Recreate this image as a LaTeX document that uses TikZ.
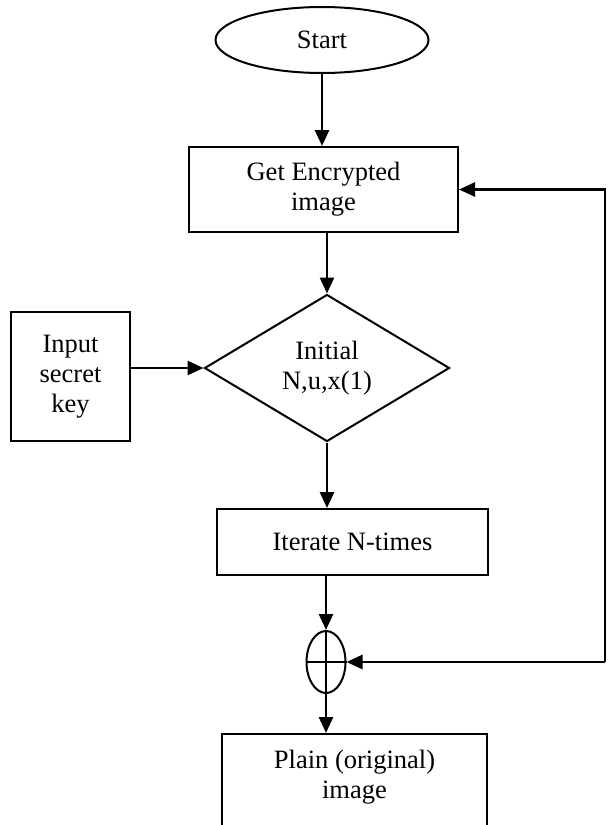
\documentclass[tikz,border=0pt]{standalone}
\usepackage{fontspec}
\setmainfont{Liberation Serif}
\usetikzlibrary{shapes.geometric,arrows.meta}

\tikzset{
  shapeline/.style={draw=black, line width=2pt},
  boxnode/.style={shapeline, rectangle, align=center, inner sep=0pt},
  arr/.style={line width=2.8pt, -{Triangle[length=16pt,width=14pt]}},
}

\begin{document}
\begin{tikzpicture}[x=1pt, y=-1pt, font=\fontsize{26.5}{30}\selectfont]
  % page frame
  \clip (0,0) rectangle (611,825);
  \fill[white] (0,0) rectangle (611,825);

  % flow nodes
  \node[shapeline, ellipse, minimum width=213pt, minimum height=66pt, inner sep=0pt] (start) at (322,40) {Start};
  \node[boxnode, minimum width=269pt, minimum height=85pt] (get) at (323.5,189.5) {Get Encrypted\\image};
  \node[shapeline, diamond, aspect=1.667, minimum width=245pt, minimum height=147pt, inner sep=0pt, align=center] (init) at (327,368) {Initial\\N,u,x(1)};
  \node[boxnode, minimum width=119pt, minimum height=129pt] (key) at (70.5,376.5) {Input\\secret\\key};
  \node[boxnode, minimum width=271pt, minimum height=66pt] (iter) at (352.5,542) {Iterate N-times};
  \node[shapeline, ellipse, minimum width=39pt, minimum height=62pt, inner sep=0pt] (xor) at (326,662) {};
  \node[shapeline, rectangle, minimum width=265pt, minimum height=130pt, anchor=north, inner sep=0pt] (plain) at (354.5,733) {};
  \node[align=center, inner sep=0pt] (plaintext) at (354.5,777) {Plain (original)\\image};

  % XOR cross
  \draw[line width=2pt] (xor.north) -- (xor.south);
  \draw[line width=2pt] (xor.west) -- (xor.east);

  % main flow
  \draw[arr] (start.south) -- (start.south |- get.north);
  \draw[arr] (get.south -| init.north) -- (init.north);
  \draw[arr] (key.east |- init.west) -- (init.west);
  \draw[arr] (init.south) -- (init.south |- iter.north);
  \draw[arr] (iter.south -| xor.north) -- (xor.north);
  \draw[arr] (xor.south) -- (xor.south |- plain.north);

  % feedback path on the right
  \coordinate (fbx) at (605,0);
  \draw[arr] (xor.east -| fbx) |- (get.east);
  \draw[arr] (xor.east -| fbx) -- (xor.east);
\end{tikzpicture}
\end{document}
